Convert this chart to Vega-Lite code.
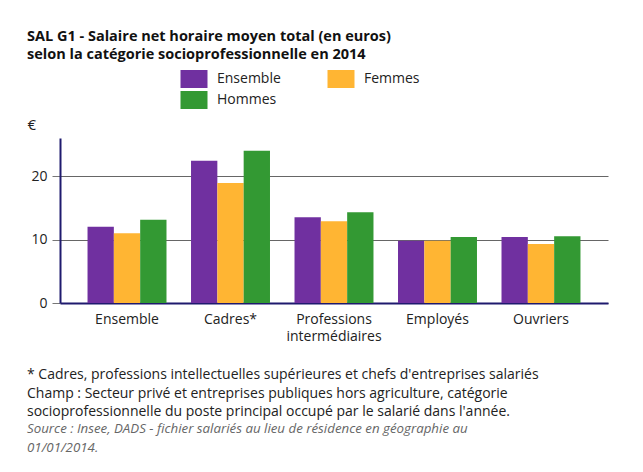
{
  "$schema": "https://vega.github.io/schema/vega-lite/v6.json",
  "padding": {"left": 27, "top": 28, "right": 20, "bottom": 6},
  "background": "white",
  "config": {
    "font": "Open Sans",
    "view": {"stroke": null},
    "axis": {"labelFont": "Open Sans", "labelFontSize": 14, "labelColor": "#222", "titleFont": "Open Sans"}
  },
  "title": {
    "text": ["SAL G1 - Salaire net horaire moyen total (en euros)", "selon la catégorie socioprofessionnelle en 2014"],
    "anchor": "start",
    "fontSize": 14.5,
    "fontWeight": "bold",
    "color": "#111",
    "lineHeight": 18,
    "offset": 8
  },
  "vconcat": [
    {
      "width": 548,
      "height": 165,
      "title": {
        "text": ["* Cadres, professions intellectuelles supérieures et chefs d'entreprises salariés", "Champ : Secteur privé et entreprises publiques hors agriculture, catégorie", "socioprofessionnelle du poste principal occupé par le salarié dans l'année."],
        "subtitle": ["Source : Insee, DADS - fichier salariés au lieu de résidence en géographie au", "01/01/2014."],
        "orient": "bottom",
        "anchor": "start",
        "fontSize": 14,
        "fontWeight": "normal",
        "color": "#222",
        "lineHeight": 18.5,
        "subtitleFontSize": 13.3,
        "subtitleFontStyle": "italic",
        "subtitleColor": "#666",
        "subtitleLineHeight": 19,
        "subtitlePadding": 3,
        "offset": 25
      },
      "data": {
        "values": [
          {"cat": "Ensemble", "serie": "Ensemble", "v": 12.0},
          {"cat": "Ensemble", "serie": "Femmes", "v": 11.0},
          {"cat": "Ensemble", "serie": "Hommes", "v": 13.1},
          {"cat": "Cadres*", "serie": "Ensemble", "v": 22.4},
          {"cat": "Cadres*", "serie": "Femmes", "v": 18.9},
          {"cat": "Cadres*", "serie": "Hommes", "v": 24.0},
          {"cat": "Professions intermédiaires", "serie": "Ensemble", "v": 13.5},
          {"cat": "Professions intermédiaires", "serie": "Femmes", "v": 12.9},
          {"cat": "Professions intermédiaires", "serie": "Hommes", "v": 14.3},
          {"cat": "Employés", "serie": "Ensemble", "v": 9.8},
          {"cat": "Employés", "serie": "Femmes", "v": 9.8},
          {"cat": "Employés", "serie": "Hommes", "v": 10.4},
          {"cat": "Ouvriers", "serie": "Ensemble", "v": 10.4},
          {"cat": "Ouvriers", "serie": "Femmes", "v": 9.3},
          {"cat": "Ouvriers", "serie": "Hommes", "v": 10.5}
        ]
      },
      "mark": {"type": "bar"},
      "encoding": {
        "x": {
          "field": "cat",
          "type": "nominal",
          "sort": null,
          "scale": {"paddingInner": 0.237, "paddingOuter": 0.266},
          "axis": {
            "title": null,
            "labelAngle": 0,
            "domainColor": "#1f1a6e",
            "domainWidth": 2,
            "ticks": false,
            "labelPadding": 9,
            "labelExpr": "datum.label == 'Professions intermédiaires' ? ['Professions', 'intermédiaires'] : datum.label",
            "labelLineHeight": 17
          }
        },
        "xOffset": {"field": "serie", "type": "nominal", "scale": {"paddingInner": 0, "paddingOuter": 0}},
        "y": {
          "field": "v",
          "type": "quantitative",
          "scale": {"domain": [0, 26], "nice": false},
          "axis": {
            "values": [0, 10, 20],
            "title": "€",
            "titleAngle": 0,
            "titleAlign": "left",
            "titleBaseline": "bottom",
            "titleX": -33,
            "titleY": -6,
            "titleFontSize": 15,
            "titleFontWeight": "normal",
            "titleColor": "#222",
            "domainColor": "#1f1a6e",
            "domainWidth": 2,
            "tickColor": "#777",
            "tickSize": 8,
            "labelPadding": 5,
            "gridColor": "#666",
            "gridWidth": 1,
            "grid": true
          }
        },
        "color": {
          "field": "serie",
          "type": "nominal",
          "scale": {"domain": ["Ensemble", "Femmes", "Hommes"], "range": ["#7030a0", "#ffb533", "#339933"]},
          "legend": {
            "title": null,
            "orient": "none",
            "legendX": 125,
            "legendY": -68,
            "direction": "horizontal",
            "columns": 2,
            "columnPadding": 46,
            "rowPadding": 3,
            "symbolType": "M-1.5,-1H1.5V1H-1.5Z",
            "symbolSize": 324,
            "symbolStrokeWidth": 0,
            "symbolOpacity": 1,
            "labelFont": "Open Sans",
            "labelFontSize": 14,
            "labelColor": "#222",
            "labelOffset": 14
          }
        }
      }
    }
  ]
}
